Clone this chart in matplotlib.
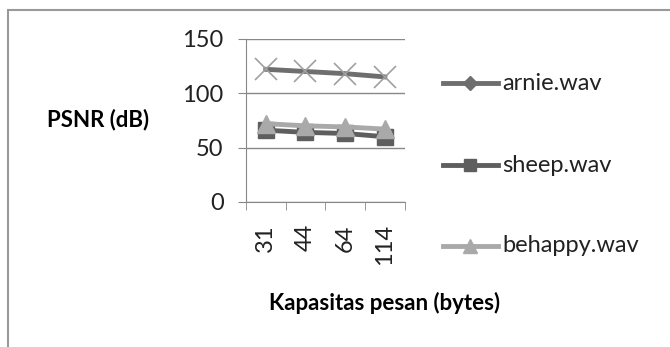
import matplotlib
matplotlib.use("Agg")
import matplotlib.pyplot as plt
from matplotlib.lines import Line2D
from matplotlib.patches import Rectangle

# data
kapasitas = ["31", "44", "64", "114"]
arnie = [122, 120, 118, 115]
sheep = [66, 64, 63, 60]
behappy = [72, 70, 69, 67]

plt.rcParams["font.family"] = ["Lato", "DejaVu Sans"]

fig = plt.figure(figsize=(6.7, 3.47), dpi=100)
ax = fig.add_axes([0.367, 0.418, 0.237, 0.47])

x = list(range(len(kapasitas)))
ax.plot(x, arnie, color="#6e6e6e", lw=3.5, marker="x", ms=16, mew=1.2,
        mec="#a0a0a0", zorder=3)
ax.plot(x, sheep, color="#5e5e5e", lw=3.5, marker="s", ms=11, zorder=3)
ax.plot(x, behappy, color="#a9a9a9", lw=3.5, marker="^", ms=13, zorder=4)

ax.set_ylim(0, 150)
ax.set_yticks([0, 50, 100, 150])
ax.set_xlim(-0.5, len(kapasitas) - 0.5)
ax.set_xticks(x)
ax.set_xticklabels(kapasitas, rotation=90)
ax.set_xticks([i - 0.5 for i in range(len(kapasitas) + 1)], minor=True)
ax.tick_params(axis="x", which="major", length=0, pad=16, labelsize=17,
               labelcolor="#222222")
ax.tick_params(axis="x", which="minor", length=6, direction="out", color="#888888")
ax.tick_params(axis="y", length=6, direction="out", color="#888888", labelsize=17,
               pad=10, labelcolor="#222222")
ax.grid(axis="y", color="#888888", lw=1)
ax.set_axisbelow(True)
for s in ["top", "right"]:
    ax.spines[s].set_visible(False)
for s in ["left", "bottom"]:
    ax.spines[s].set_color("#888888")

fig.text(47 / 670, 1 - 120 / 347, "PSNR (dB)", fontsize=16, fontweight="bold",
         va="center")
fig.text(385 / 670, 1 - 303 / 347, "Kapasitas pesan (bytes)", fontsize=16,
         fontweight="bold", ha="center", va="center")

# legend, drawn by hand to place entries like the original
legend_items = [
    ("arnie.wav", "#6e6e6e", "D", 7, 83),
    ("sheep.wav", "#5e5e5e", "s", 9, 165),
    ("behappy.wav", "#a9a9a9", "^", 10, 246),
]
for name, col, mk, ms, yy in legend_items:
    yf = 1 - yy / 347
    fig.add_artist(Line2D([443 / 670, 470 / 670, 498 / 670], [yf, yf, yf],
                          color=col, lw=3.5, marker=mk, markevery=[1], ms=ms,
                          transform=fig.transFigure))
    fig.text(502 / 670, yf, name, fontsize=17, va="center", color="#222222")

fig.add_artist(Rectangle((8 / 670, -0.1), 1.2, 1 - 10 / 347 + 0.1, fill=False,
                         edgecolor="#999999", lw=1.5, transform=fig.transFigure))

fig.savefig("out.png", dpi=100)
